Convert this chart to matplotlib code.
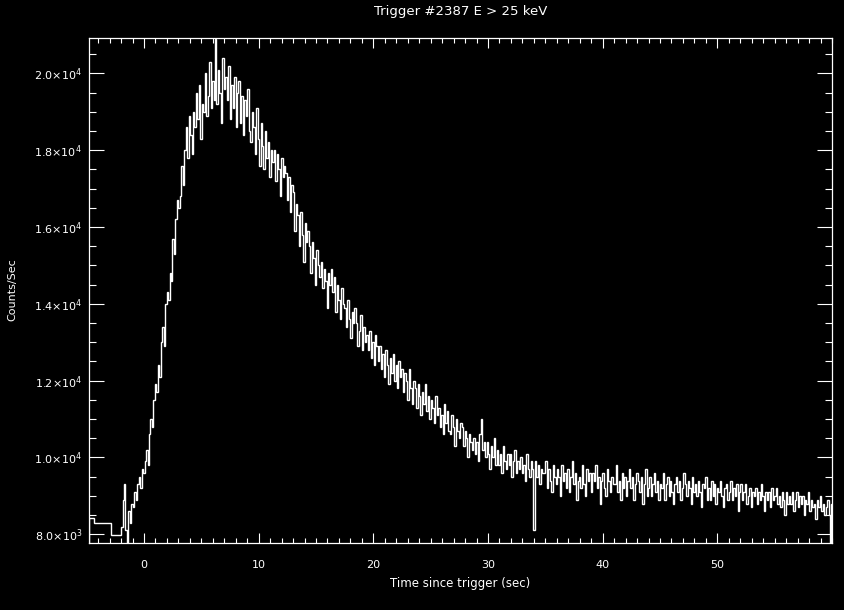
"""
Кривая блеска всплеска: скорость счёта (E > 25 keV) от времени после триггера.
"""

import numpy as np
import matplotlib

matplotlib.use('Agg')  # без графического интерфейса
import matplotlib.pyplot as plt
from matplotlib.ticker import FixedLocator, MultipleLocator

# Грубые предтриггерные бины (границы в секундах и скорости счёта)
coarse_edges = [-4.8, -4.4, -2.9, -2.0]
coarse_rates = [8420, 8300, 7980]

# Мелкие бины после -2.0 с, шаг 0.128 с (по 8 бинов в строке)
fine_start = -2.0
fine_step = 0.128
fine_rates = [
    8200, 8900, 9300, 8100, 7700, 8600, 8300, 8800,
    8700, 9100, 8900, 9300, 9500, 9200, 9700, 9600,
    9900, 10200, 9800, 10600, 11000, 10800, 11500, 11900,
    11700, 12400, 12100, 13000, 13400, 12900, 14000, 14300,
    14100, 14800, 14600, 15700, 15300, 16200, 16700, 16500,
    16800, 17600, 17100, 18000, 18600, 17800, 18900, 18400,
    17900, 19000, 18600, 19500, 18800, 19700, 18300, 19200,
    19000, 20000, 18900, 19400, 20300, 19100, 19800, 19300,
    20900, 19200, 20100, 19500, 18700, 20400, 19600, 19900,
    19300, 20200, 18800, 19700, 19100, 19900, 18600, 19500,
    19800, 18700, 19400, 18400, 19300, 18900, 19600, 18500,
    18200, 19000, 18600, 17900, 19100, 18300, 17600, 18700,
    18100, 17500, 18500, 17800, 18200, 17300, 18000, 17700,
    18000, 17200, 17900, 17500, 16800, 17800, 17300, 17600,
    17400, 16700, 17300, 16400, 17100, 16900, 15900, 16600,
    16300, 15500, 16400, 15800, 15100, 16100, 15600, 15900,
    15500, 14800, 15600, 15200, 14500, 15400, 15000, 14700,
    15100, 14400, 14900, 14600, 13900, 14800, 14500, 14900,
    14300, 14700, 13800, 14500, 14100, 13600, 14400, 14000,
    13900, 13400, 14100, 13600, 13100, 13800, 13500, 13900,
    13500, 12900, 13300, 13700, 12800, 13400, 13000, 13200,
    12800, 13300, 12600, 13000, 12400, 13200, 12900, 12500,
    12900, 12300, 12700, 12100, 12800, 12400, 11900, 12600,
    12200, 12700, 12000, 12400, 11800, 12500, 12100, 12300,
    11700, 12200, 12000, 11500, 12300, 11800, 11400, 12000,
    11800, 11300, 11900, 11600, 11100, 11700, 11400, 11900,
    11200, 11600, 11000, 11500, 11300, 10900, 11600, 11100,
    11300, 10800, 11100, 10600, 11400, 10900, 11200, 10700,
    10600, 11100, 10800, 10300, 11000, 10700, 10500, 10900,
    10800, 10300, 10700, 10500, 10000, 10600, 10400, 10200,
    10500, 10100, 10400, 9900, 10600, 11000, 10200, 10400,
    10000, 10400, 10100, 9700, 10300, 10000, 10500, 9800,
    10200, 9800, 10100, 9600, 10300, 9900, 9700, 10100,
    9800, 10100, 9500, 9900, 10200, 9600, 9900, 9700,
    10000, 9600, 9800, 9400, 10100, 9700, 9500, 9900,
    9700, 8100, 9900, 9500, 9800, 9300, 9700, 9600,
    9600, 9900, 9200, 9700, 9400, 9100, 9800, 9500,
    9300, 9700, 9500, 9000, 9800, 9400, 9600, 9200,
    9700, 9100, 9500, 9900, 9300, 9600, 8900, 9400,
    9500, 9200, 9800, 9300, 9000, 9700, 9400, 9600,
    9100, 9600, 9400, 9800, 9200, 9500, 8800, 9400,
    9600, 9200, 9000, 9700, 9400, 9100, 9500, 9300,
    9300, 9800, 9100, 9400, 8900, 9600, 9200, 9500,
    9000, 9400, 9700, 9200, 9500, 8900, 9300, 9600,
    9400, 9100, 9500, 8800, 9300, 9700, 9000, 9200,
    9500, 9000, 9300, 9600, 9100, 9400, 8900, 9300,
    9200, 9600, 8900, 9300, 9500, 9000, 9400, 9100,
    8800, 9300, 9500, 9100, 9400, 8900, 9200, 9600,
    9300, 9000, 9400, 9200, 8800, 9500, 9100, 9300,
    9000, 9400, 9100, 8700, 9300, 9200, 9500, 8900,
    9200, 8900, 9400, 9000, 9300, 8800, 9200, 9100,
    9400, 9000, 8700, 9200, 9300, 8900, 9100, 9400,
    8900, 9200, 9000, 9300, 8600, 9100, 9300, 8900,
    9100, 9300, 8800, 9000, 9200, 8700, 9100, 9000,
    9200, 8800, 9100, 8900, 9300, 9000, 8600, 9100,
    8900, 9100, 8700, 9200, 8900, 9000, 9200, 8800,
    9000, 8700, 9100, 8900, 8500, 9100, 8800, 9000,
    8800, 9100, 8600, 8900, 9100, 8700, 9000, 8800,
    9000, 8500, 8900, 8800, 9100, 8600, 8900, 8700,
    8800, 8400, 8900, 8700, 9000, 8600, 8800, 8500,
    8700, 8900, 8500, 7700, 8800, 8600, 8900, 8700,
]

# Подписи оси Y
y_ticks = [8000, 10000, 12000, 14000, 16000, 18000, 20000]
y_labels = ['8.0×10$^3$', '1.0×10$^4$', '1.2×10$^4$', '1.4×10$^4$',
            '1.6×10$^4$', '1.8×10$^4$', '2.0×10$^4$']
x_ticks = [0, 10, 20, 30, 40, 50]

# Склейка границ бинов
fine_edges = fine_start + fine_step * np.arange(len(fine_rates) + 1)
edges = np.concatenate([coarse_edges[:-1], fine_edges])
rates = np.concatenate([coarse_rates, fine_rates])

plt.rcParams['mathtext.fontset'] = 'dejavusans'
fg = 'white'

fig = plt.figure(figsize=(8.45, 6.1), dpi=100, facecolor='black')
ax = fig.add_axes([0.1053, 0.1098, 0.8793, 0.8279], facecolor='black')

ax.stairs(rates, edges, color=fg, lw=1.0)

ax.set_xlim(-4.8, 60)
ax.set_ylim(7773, 20920)

ax.xaxis.set_major_locator(FixedLocator(x_ticks))
ax.xaxis.set_minor_locator(MultipleLocator(1))
ax.yaxis.set_major_locator(FixedLocator(y_ticks))
ax.yaxis.set_minor_locator(MultipleLocator(500))
ax.set_yticklabels(y_labels)

for s in ax.spines.values():
    s.set_color(fg)
    s.set_linewidth(0.9)

ax.tick_params(axis='x', which='major', direction='in', length=7.2, width=0.8,
               top=True, color=fg, labelcolor=fg, labelsize=8, pad=12)
ax.tick_params(axis='x', which='minor', direction='in', length=3.6, width=0.8,
               top=True, color=fg)
ax.tick_params(axis='y', which='major', direction='in', length=10.8, width=0.8,
               right=True, color=fg, labelcolor=fg, labelsize=8, pad=5)
ax.tick_params(axis='y', which='minor', direction='in', length=5, width=0.8,
               right=True, color=fg)

fig.text(0.545, 1 - 12 / 610, 'Trigger #2387 E > 25 keV', color=fg,
         fontsize=9.5, ha='center', va='center')
fig.text(0.545, 1 - 583 / 610, 'Time since trigger (sec)', color=fg,
         fontsize=8.5, ha='center', va='center')
fig.text(12 / 845, 1 - 290 / 610, 'Counts/Sec', color=fg, fontsize=8,
         rotation=90, ha='center', va='center')

fig.savefig('out.png', dpi=100, facecolor='black')
